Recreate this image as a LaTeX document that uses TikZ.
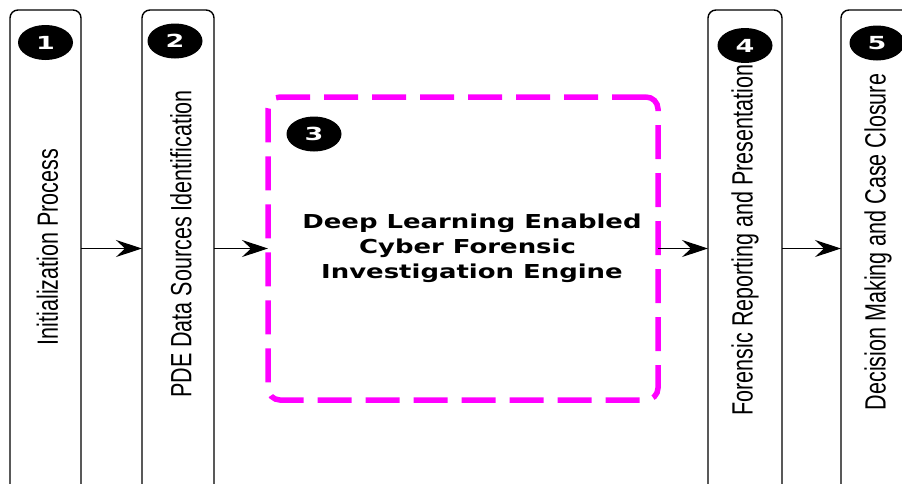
\documentclass[tikz,border=0pt]{standalone}
\usepackage{fontspec}
\setmainfont{Liberation Sans}
\newfontfamily\enginefont{DejaVu Sans}
\usetikzlibrary{arrows.meta,positioning,shapes.geometric}
\definecolor{engmagenta}{RGB}{255,0,255}
\newcommand{\engwide}[1]{\scalebox{1.35}[1]{#1}}
\newcommand{\stagenarrow}[1]{\scalebox{0.735}[1]{#1}}

\begin{document}
\begin{tikzpicture}[x=1pt, y=1pt,
	stage/.style={draw, line width=1.4pt, rounded corners=8pt, anchor=north west, outer sep=0pt, inner sep=0pt, minimum height=500pt},
	stagenum/.style={ellipse, fill=black, minimum width=55pt, minimum height=35pt, inner sep=0pt, text=white, font=\enginefont\bfseries\fontsize{18}{18}\selectfont},
	stagetext/.style={rotate=90, inner sep=0pt, font=\fontsize{29.3}{30}\selectfont},
	engine/.style={draw=engmagenta, line width=5.5pt, dash pattern=on 34pt off 14pt, rounded corners=12pt, outer sep=0pt, minimum width=390pt, minimum height=303pt},
	enginetext/.style={align=center, inner sep=0pt, font=\enginefont\bfseries\fontsize{19.2}{25}\selectfont},
	arr/.style={-{Stealth[length=26pt, width=17pt, inset=9pt]}, line width=1.3pt}]
	\useasboundingbox (0,0) rectangle (902,-483);
	\clip (0,0) rectangle (902,-483);
	
	\node[stage, minimum width=71pt] (init) at (10,-10) {};
	\node[stage, minimum width=72pt, right=61pt of init] (pde) {};
	\node[engine, right=54pt of pde, yshift=11.5pt] (engine) {};
	\node[stage, minimum width=74pt] (report) at (708,-10) {};
	\node[stage, minimum width=72pt, right=59pt of report] (decision) {};
	
	\node[stagenum] (num1) at ([yshift=-32.5pt]init.north) {\scalebox{1.5}[1]{1}};
	\node[stagenum] (num2) at ([xshift=-3pt, yshift=-31pt]pde.north) {\scalebox{1.5}[1]{2}};
	\node[stagenum] (num3) at ([xshift=46pt, yshift=-37pt]engine.north west) {\scalebox{1.5}[1]{3}};
	\node[stagenum] (num4) at ([yshift=-35.5pt]report.north) {\scalebox{1.5}[1]{4}};
	\node[stagenum] (num5) at ([yshift=-33pt]decision.north) {\scalebox{1.5}[1]{5}};
	
	\node[stagetext] (initlabel) at ([xshift=2pt, yshift=1.5pt]init.center |- engine.center) {\stagenarrow{Initialization Process}};
	\node[stagetext] (pdelabel) at ([xshift=3pt, yshift=4.5pt]pde.center |- engine.center) {\stagenarrow{PDE Data Sources Identification}};
	\node[stagetext] (reportlabel) at ([yshift=8.5pt]report.center |- engine.center) {\stagenarrow{Forensic Reporting and Presentation}};
	\node[stagetext] (decisionlabel) at ([xshift=1pt, yshift=6.5pt]decision.center |- engine.center) {\stagenarrow{Decision Making and Case Closure}};
	\node[enginetext] (enginelabel) at ([xshift=9pt]engine.center) {\engwide{Deep Learning Enabled}\\\engwide{Cyber Forensic\ }\\\engwide{Investigation Engine}};
	
	\draw[arr] (init.east |- engine.west) -- (pde.west |- engine.west);
	\draw[arr] (pde.east |- engine.west) -- (engine.west);
	\draw[arr] (engine.east) -- (report.west |- engine.east);
	\draw[arr] (report.east |- engine.east) -- (decision.west |- engine.east);
\end{tikzpicture}
\end{document}
